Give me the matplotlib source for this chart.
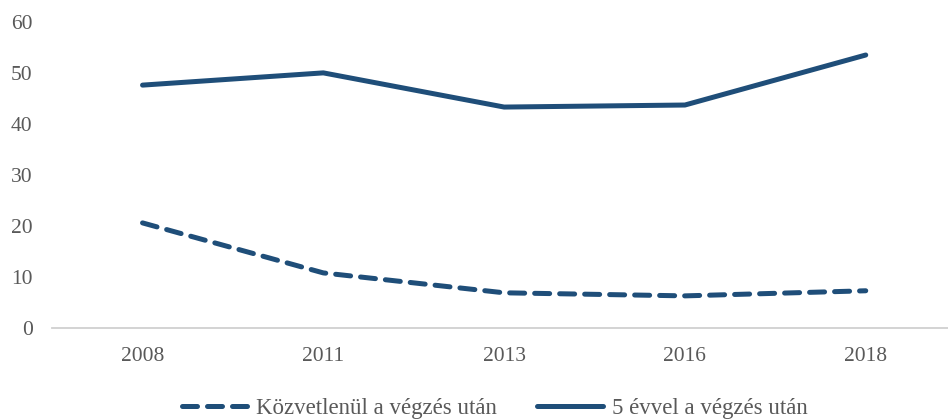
import matplotlib.pyplot as plt

# data
years = ['2008', '2011', '2013', '2016', '2018']
kozvetlenul = [20.6, 10.8, 6.9, 6.3, 7.3]
ot_evvel = [47.6, 50.0, 43.3, 43.7, 53.5]
y_ticks = [0, 10, 20, 30, 40, 50, 60]

navy = '#1f4e79'
grey = '#595959'

plt.rcParams['font.family'] = ['Liberation Serif', 'DejaVu Serif']

fig = plt.figure(figsize=(9.48, 4.2), dpi=100)
ax = fig.add_axes([0.055, 0.219, 0.945, 0.729])

x = list(range(len(years)))
ax.plot(x, kozvetlenul, color=navy, lw=3.6, dashes=(3.0, 2.0),
        dash_capstyle='round', solid_capstyle='round',
        label='Közvetlenül a végzés után')
ax.plot(x, ot_evvel, color=navy, lw=3.6, solid_capstyle='round',
        label='5 évvel a végzés után')

ax.set_xlim(-0.5, 4.455)
ax.set_ylim(0, 60)
ax.set_yticks(y_ticks)
ax.set_xticks(x)
ax.set_xticklabels(years)

for s in ['top', 'right', 'left']:
    ax.spines[s].set_visible(False)
ax.spines['bottom'].set_color('#d0d0d0')
ax.spines['bottom'].set_linewidth(1.3)
ax.tick_params(axis='both', length=0, labelsize=15.5, labelcolor=grey)
ax.tick_params(axis='x', pad=14)
ax.tick_params(axis='y', pad=14)

fig.legend(loc='center', bbox_to_anchor=(0.522, 0.028), ncol=2, frameon=False,
           fontsize=16.5, labelcolor=grey, handlelength=2.85, handletextpad=0.4,
           columnspacing=1.75)

fig.savefig('out.png', dpi=100)
